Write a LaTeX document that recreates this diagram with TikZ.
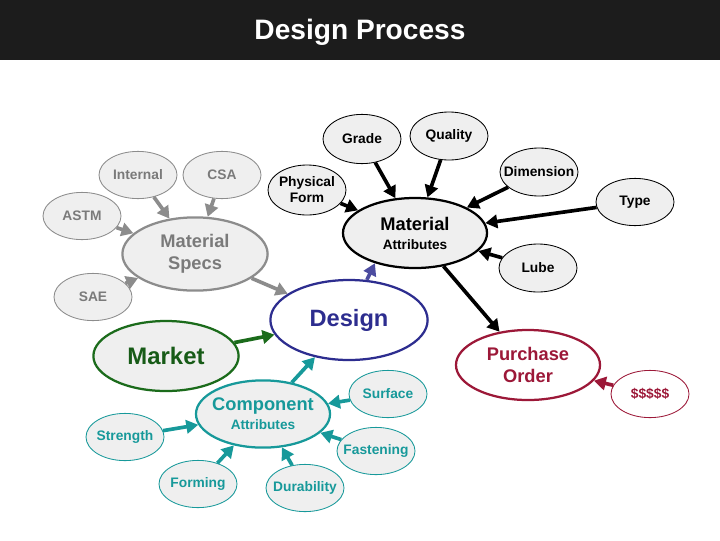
\documentclass[tikz,border=0pt]{standalone}
\usepackage{fontspec}
\setmainfont{Liberation Sans}
\usetikzlibrary{arrows.meta,shapes.geometric}
\definecolor{Bar}{HTML}{1C1C1C}
\definecolor{Shade}{HTML}{EFEFEF}
\definecolor{Stone}{HTML}{8C8C8C}
\definecolor{StoneText}{HTML}{7A7A7A}
\definecolor{Navy}{HTML}{2D2D8F}
\definecolor{Forest}{HTML}{1B6B1B}
\definecolor{Wine}{HTML}{9C1838}
\definecolor{Teal}{HTML}{17999A}

\begin{document}
\begin{tikzpicture}[x=0.025cm,y=-0.025cm,
    bubble/.style={ellipse,draw,fill=Shade,inner ysep=0pt,inner xsep=-8pt,align=center,
      minimum width=1.95cm,minimum height=1.18cm,line width=0.6pt,
      font=\bfseries\fontsize{9.8}{11.3}\selectfont},
    hub/.style={ellipse,draw,inner ysep=0pt,inner xsep=-6pt,align=center,
      minimum width=3.6cm,minimum height=1.75cm,line width=1.6pt,
      font=\bfseries\fontsize{13}{15.6}\selectfont},
    link/.style={line width=2.6pt,-{Triangle[length=8.5pt,width=9.5pt]}},
    greyset/.style={draw=Stone,text=StoneText},
    blackset/.style={draw=black,text=black},
    tealset/.style={draw=Teal,text=Teal}]
  \fill[white] (0,0) rectangle (720,540);
  \fill[Bar] (0,0) rectangle (720,60);
  \node[text=white,font=\bfseries\fontsize{20}{24}\selectfont] (title) at (360,32) {Design Process};

  \node[hub,fill=Shade,greyset,minimum width=3.63cm,minimum height=1.83cm] (mspecs) at (195,254) {Material\\Specs};
  \node[bubble,greyset] (internal) at (138,175) {Internal};
  \node[bubble,greyset] (csa) at (222,175) {CSA};
  \node[bubble,greyset] (astm) at (82,216) {ASTM};
  \node[bubble,greyset] (sae) at (93,297) {SAE};

  \node[hub,fill=Shade,blackset,font=\bfseries\fontsize{13}{13.5}\selectfont] (mattr) at (415,233) {Material\\{\fontsize{9.7}{11}\selectfont Attributes}};
  \node[bubble,blackset,minimum height=1.25cm] (physform) at (307,190) {Physical\\Form};
  \node[bubble,blackset,minimum height=1.23cm] (grade) at (362,139) {Grade};
  \node[bubble,blackset,minimum height=1.2cm] (quality) at (449,136) {Quality};
  \node[bubble,blackset,minimum height=1.2cm] (dimension) at (539,172) {Dimension};
  \node[bubble,blackset] (type) at (635,202) {Type};
  \node[bubble,blackset,minimum height=1.2cm] (lube) at (538,268) {Lube};

  \node[hub,fill=white,draw=Navy,text=Navy,minimum width=3.93cm,minimum height=2cm,
    font=\bfseries\fontsize{16.8}{20}\selectfont] (design) at (349,320) {Design};
  \node[hub,fill=Shade,draw=Forest,text=Forest!85!black,minimum width=3.63cm,
    font=\bfseries\fontsize{17}{20}\selectfont] (market) at (166,356) {Market};
  \node[hub,fill=white,draw=Wine,text=Wine] (porder) at (528,365) {Purchase\\Order};
  \node[bubble,fill=white,draw=Wine,text=Wine] (money) at (650,394) {\$\$\$\$\$};

  \node[hub,fill=Shade,tealset,minimum width=3.35cm,minimum height=1.68cm,
    font=\bfseries\fontsize{13}{13.5}\selectfont] (comp) at (263,414) {Component\\{\fontsize{9.7}{11}\selectfont Attributes}};
  \node[bubble,tealset] (surface) at (388,394) {Surface};
  \node[bubble,tealset] (strength) at (125,437) {Strength};
  \node[bubble,tealset] (fastening) at (376,451) {Fastening};
  \node[bubble,tealset] (forming) at (198,484) {Forming};
  \node[bubble,tealset] (durability) at (305,488) {Durability};

  \draw[link,Stone] (internal) -- (mspecs);
  \draw[link,Stone] (csa) -- (mspecs);
  \draw[link,Stone] (astm) -- (mspecs);
  \draw[link,Stone] (sae) -- (mspecs);
  \draw[link,Stone] (mspecs) -- (design);

  \draw[link] (physform) -- (mattr);
  \draw[link] (grade) -- (mattr);
  \draw[link] (quality) -- (mattr);
  \draw[link] (dimension) -- (mattr);
  \draw[link] (type) -- (mattr);
  \draw[link] (lube) -- (mattr);
  \draw[link] (mattr) -- (porder);

  \draw[link,Navy!85!white] (design.66) -- (mattr.217);
  \draw[link,Forest] (market) -- (design);
  \draw[link,Wine] (money) -- (porder);

  \draw[link,Teal] (comp) -- (design);
  \draw[link,Teal] (surface) -- (comp);
  \draw[link,Teal] (strength) -- (comp);
  \draw[link,Teal] (fastening) -- (comp);
  \draw[link,Teal] (forming) -- (comp);
  \draw[link,Teal] (durability) -- (comp);
\end{tikzpicture}
\end{document}
